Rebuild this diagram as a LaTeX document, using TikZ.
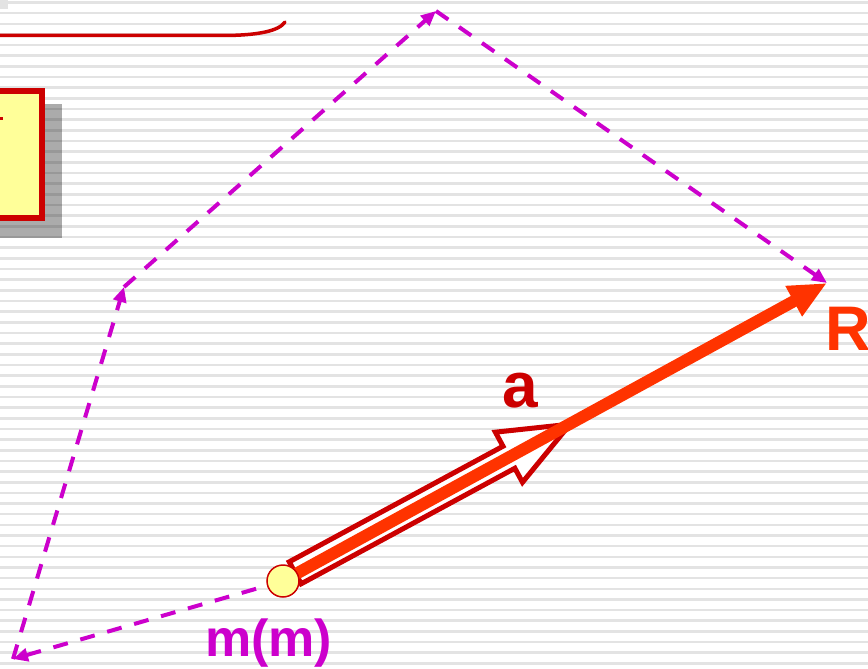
\documentclass[tikz,border=0pt]{standalone}
\usepackage{fontspec}
\setmainfont{Liberation Sans}
\usetikzlibrary{arrows.meta}
\definecolor{mag}{HTML}{CC00CC}
\definecolor{dred}{HTML}{CC0000}
\definecolor{ored}{HTML}{FF3300}
\definecolor{lyel}{HTML}{FFFF99}
\tikzset{
  stripe/.style={fill=gray!22},
  forcearrow/.style={draw=mag, line width=4pt, dash pattern=on 15pt off 13pt,
    -{Triangle[length=15pt,width=13pt]}},
  resultant/.style={draw=ored, line width=12pt,
    -{Triangle[length=38pt,width=32pt]}},
  blockarrow/.style={draw=dred, line width=5pt, fill=white, line join=miter, miter limit=20},
  massdot/.style={circle, draw=dred, fill=lyel, line width=1.5pt, minimum size=32pt, inner sep=0pt},
  lbl/.style={inner sep=0pt, anchor=base west, font=\bfseries}
}
\begin{document}
\begin{tikzpicture}[x=1pt,y=-1pt]
\useasboundingbox (0,0) rectangle (868,669);
\clip (0,0) rectangle (868,669);
\fill[white] (0,0) rectangle (868,669);
% striped background
\foreach \k in {0,...,63}{
  \fill[stripe] (0,{1.2+\k*10.66}) rectangle (868,{3.8+\k*10.66});
}
% top-left fragment
\fill[gray!22] (0,0) rectangle (8,9);
% red title line
\draw[dred, line width=3.5pt, line cap=round] (-5,35.5) -- (222,35.5) .. controls (258,35.5) and (279,31) .. (285,22);
% box shadow and box
\fill[black, opacity=0.33] (-20,104) rectangle (62,238);
\draw[dred, line width=6pt, fill=lyel] (-20,91) rectangle (42,218);
\fill[dred] (0,116.5) rectangle (3,119.5);
% points
\coordinate (mc) at (283,581);
\coordinate (P1) at (13,659);
\coordinate (P2) at (124,287);
\coordinate (P3) at (436,11);
\coordinate (Rt) at (827,283);
% force polygon
\draw[forcearrow] (mc) -- (P1);
\draw[forcearrow] (P1) -- (P2);
\draw[forcearrow] (P2) -- (P3);
\draw[forcearrow] (P3) -- (Rt);
% acceleration block arrow
\begin{scope}[shift={(293,574)}, rotate=28.4]
  \draw[blockarrow] (2.5,12.5) -- (245.5,12.5) -- (245.5,28.5) -- (315,0)
    -- (245.5,-28.5) -- (245.5,-12.5) -- (2.5,-12.5) -- cycle;
\end{scope}
% resultant
\draw[resultant] (mc) -- (Rt);
% mass point
\node[massdot] (m) at (mc) {};
% labels
\node[lbl, text=dred, font=\bfseries\fontsize{64}{70}\selectfont] (la) at (502,407) {a};
\node[lbl, text=ored, font=\bfseries\fontsize{63}{70}\selectfont] (lR) at (825,350) {R};
\node[lbl, text=mag, font=\bfseries\fontsize{52}{60}\selectfont] (lm) at (205,656) {m(m)};
\end{tikzpicture}
\end{document}
